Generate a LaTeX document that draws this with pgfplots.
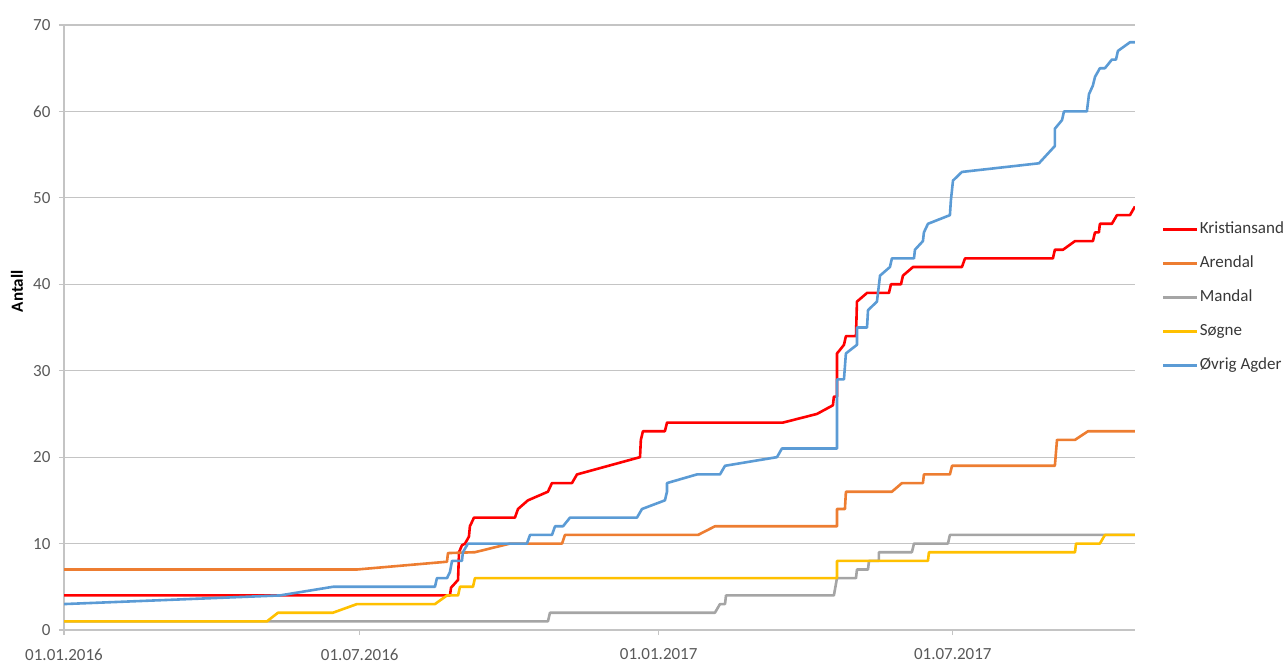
\documentclass[border=0pt]{standalone}
\usepackage{pgfplots}
\pgfplotsset{compat=1.18}
\usepackage{fontspec}
\setmainfont{Carlito}
\definecolor{cRed}{HTML}{FF0000}
\definecolor{cOrange}{HTML}{ED7D31}
\definecolor{cGray}{HTML}{A5A5A5}
\definecolor{cYellow}{HTML}{FFC000}
\definecolor{cBlue}{HTML}{5B9BD5}
\definecolor{gridc}{HTML}{C4C4C4}
\definecolor{txt}{HTML}{595959}
\begin{document}
\begin{tikzpicture}
\useasboundingbox (0pt,0pt) rectangle (1285pt,662pt);
\begin{axis}[
  at={(64pt,32pt)}, anchor=south west,
  scale only axis, width=1071pt, height=605pt,
  xmin=0, xmax=659.1, ymin=0, ymax=70,
  axis lines=left,
  axis line style={-, gridc, line width=1.2pt},
  xtick={0,182,366,547},
  xticklabels={01.01.2016,01.07.2016,01.01.2017,01.07.2017},
  ytick={0,10,20,30,40,50,60,70},
  ymajorgrids,
  grid style={gridc, line width=1.2pt},
  tick align=outside,
  major tick length=5pt,
  tick style={gridc, line width=1.2pt},
  tick label style={font=\fontsize{17}{20}\selectfont, text=txt},
  xticklabel style={yshift=-10pt},
  yticklabel style={xshift=-5pt},
  /pgf/number format/assume math mode=true,
  ylabel={Antall},
  ylabel style={at={(axis description cs:-0.0439,0.56)}, anchor=center, font=\bfseries\fontsize{17}{20}\selectfont, text=black},
  legend cell align=left,
  legend style={at={(1.0252,0.5496)}, anchor=west, draw=none, fill=none,
    font=\fontsize{17}{20}\selectfont, text=black!78, row sep=15pt, inner sep=0pt,
    nodes={inner sep=1.5pt, text height=12pt, text depth=4pt}},
  legend image code/.code={\draw[#1, line width=2.2pt] (0pt,0pt) -- (34pt,0pt);},
  every axis plot/.append style={line width=2.6pt, line join=round, mark=none},
]
\addplot[cRed] coordinates {(0,4)(237.5,4)(238.2,4.9)(240.6,5.4)(242.5,5.8)(243.1,9)(244.9,9.8)(246.8,10)(249.2,10.8)(249.8,12)(252.3,13)(277.5,13)(279.4,14)(285.5,15)(297.8,16)(300.3,17)(312.6,17)(315.7,18)(354.5,20)(355,22)(356.3,23)(369.8,23)(371.1,24)(442.5,24)(463.4,25)(473.2,26)(473.8,27)(475.7,27)(475.7,32)(477.5,32.4)(480,33)(481.2,34)(487.4,34)(488,38)(494.2,39)(507.7,39)(508.9,40)(515.1,40)(516.3,41)(522.5,42)(552.6,42)(554.5,43)(608.6,43)(609.8,44)(614.8,44)(622.2,45)(633.2,45)(634.5,46)(636.9,46)(637.5,47)(644.9,47)(648,48)(656,48)(659.1,49)};
\addlegendentry{Kristiansand}
\addplot[cOrange] coordinates {(0,7)(180.3,7)(235.7,7.9)(236.3,8.9)(252.9,9)(274.5,10)(306.5,10)(308.3,11)(390.2,11)(400.6,12)(475.7,12)(475.7,14)(480.6,14)(481.2,16)(509.5,16)(515.7,17)(528.6,17)(529.2,18)(545.2,18)(546.5,19)(609.8,19)(611.1,22)(622.2,22)(630.2,23)(659.1,23)};
\addlegendentry{Arendal}
\addplot[cGray] coordinates {(0,1)(297.8,1)(299.1,2)(400.6,2)(403.7,3)(406.8,3)(407.4,4)(473.8,4)(475.7,6)(487.4,6)(488,7)(494.8,7)(495.4,8)(501.5,8)(501.5,9)(521.8,9)(523.1,10)(544,10)(545.2,11)(659.1,11)};
\addlegendentry{Mandal}
\addplot[cYellow] coordinates {(0,1)(124.9,1)(131.7,2)(165.5,2)(180.3,3)(228.3,3)(235.7,4)(242.5,4)(243.7,5)(251.7,5)(252.9,6)(475.7,6)(475.7,8)(531.7,8)(532.3,9)(622.2,9)(622.8,10)(637.5,10)(640.6,11)(659.1,11)};
\addlegendentry{Søgne}
\addplot[cBlue] coordinates {(0,3)(132.9,4)(165.5,5)(228.3,5)(229.5,6)(235.7,6)(237.5,6.7)(238.8,8)(244.9,8)(245.5,9)(248.6,10)(284.9,10)(286.8,11)(300.3,11)(302.2,12)(307.1,12)(311.4,13)(352.6,13)(355.7,14)(369.8,15)(371.1,16)(371.1,17)(389.5,18)(403.7,18)(406.8,19)(438.8,20)(441.8,21)(475.7,21)(475.7,29)(480,29)(481.2,32)(488,33)(488,35)(494.2,35)(494.8,37)(500.3,38)(502.2,41)(508.3,42)(509.5,43)(523.1,43)(523.7,44)(528.6,45)(529.2,46)(531.7,47)(545.2,48)(545.8,49.7)(547.1,52)(552.6,53)(600,54)(609.8,56)(609.8,58)(614.2,59)(615.4,60)(629.5,60)(630.8,62)(633.2,63)(634.5,64)(637.5,65)(640.6,65)(644.9,66)(647.4,66)(648.6,67)(656,68)(659.1,68)};
\addlegendentry{Øvrig Agder}
\end{axis}
\end{tikzpicture}
\end{document}
